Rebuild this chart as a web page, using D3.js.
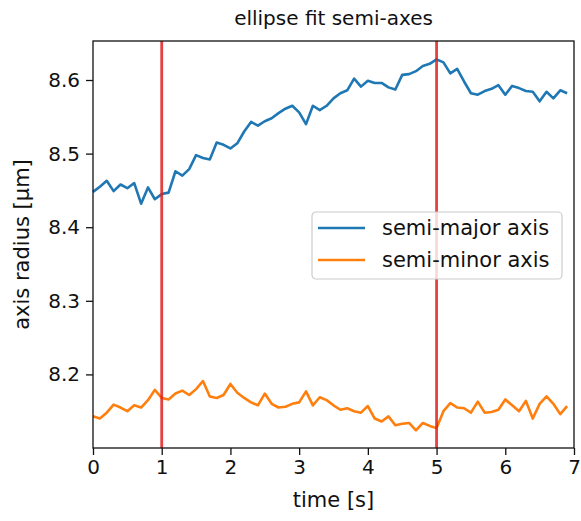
<!DOCTYPE html>
<html>
<head>
<meta charset="utf-8">
<script src="https://cdn.jsdelivr.net/npm/d3@7"></script>
<style>
  body { margin: 0; background: #fff; }
  svg text { font-family: "DejaVu Sans", sans-serif; fill: #111; }
</style>
</head>
<body>
<div id="chart"></div>
<script>
// data (time step 0.1 s)
var times = d3.range(70).map(function(i) { return i / 10; });

var semiMajor = [
  8.448, 8.455, 8.463, 8.449, 8.458, 8.453, 8.460, 8.432, 8.454, 8.438,
  8.445, 8.447, 8.476, 8.470, 8.479, 8.498, 8.494, 8.492, 8.515, 8.512,
  8.507, 8.514, 8.530, 8.543, 8.538, 8.544, 8.548, 8.555, 8.561, 8.565,
  8.556, 8.540, 8.565, 8.559, 8.565, 8.575, 8.582, 8.586, 8.602, 8.591,
  8.599, 8.596, 8.596, 8.590, 8.587, 8.607, 8.608, 8.612, 8.619, 8.622,
  8.628, 8.624, 8.609, 8.615, 8.598, 8.582, 8.580, 8.585, 8.588, 8.593,
  8.580, 8.592, 8.589, 8.585, 8.584, 8.571, 8.584, 8.575, 8.586, 8.582
];

var semiMinor = [
  8.143, 8.140, 8.148, 8.159, 8.155, 8.150, 8.158, 8.155, 8.165, 8.179,
  8.168, 8.166, 8.174, 8.178, 8.172, 8.180, 8.191, 8.170, 8.168, 8.172,
  8.187, 8.175, 8.168, 8.162, 8.158, 8.174, 8.160, 8.155, 8.156, 8.160,
  8.162, 8.177, 8.158, 8.169, 8.165, 8.158, 8.152, 8.154, 8.150, 8.148,
  8.157, 8.140, 8.136, 8.143, 8.131, 8.133, 8.134, 8.124, 8.134, 8.130,
  8.127, 8.150, 8.161, 8.155, 8.154, 8.148, 8.163, 8.148, 8.149, 8.152,
  8.166, 8.158, 8.150, 8.164, 8.140, 8.160, 8.170, 8.160, 8.146, 8.157
];

var markerTimes = [1, 5];
var seriesNames = ["semi-major axis", "semi-minor axis"];
var xTicks = [0, 1, 2, 3, 4, 5, 6, 7];
var yTicks = [8.2, 8.3, 8.4, 8.5, 8.6];

var svgWidth = 581;
var svgHeight = 521;
var margin = { top: 41, right: 7, bottom: 73, left: 93 };
var width = svgWidth - margin.left - margin.right;
var height = svgHeight - margin.top - margin.bottom;

var svg = d3.select("#chart")
  .append("svg")
  .attr("width", svgWidth)
  .attr("height", svgHeight);

var chartGroup = svg.append("g")
  .attr("transform", `translate(${margin.left}, ${margin.top})`);

var x = d3.scaleLinear().domain([0, 7]).range([0, width]);
var y = d3.scaleLinear().domain([8.1, 8.653]).range([height, 0]);

var series = [
  { name: seriesNames[0], values: semiMajor, color: "#1f77b4" },
  { name: seriesNames[1], values: semiMinor, color: "#ff7f0e" }
];

var line = d3.line()
  .x(function(d, i) { return x(times[i]); })
  .y(function(d) { return y(d); });

series.forEach(function(s) {
  chartGroup.append("path")
    .datum(s.values)
    .attr("fill", "none")
    .attr("stroke", s.color)
    .attr("stroke-width", 2.6)
    .attr("stroke-linejoin", "round")
    .attr("d", line);
});

// red markers
chartGroup.selectAll("line.marker")
  .data(markerTimes)
  .enter()
  .append("line")
  .attr("class", "marker")
  .attr("x1", d => x(d))
  .attr("x2", d => x(d))
  .attr("y1", 0)
  .attr("y2", height)
  .attr("stroke", "#e02020")
  .attr("stroke-opacity", 0.85)
  .attr("stroke-width", 2.8);

// axes
var bottomAxis = d3.axisBottom(x).tickValues(xTicks).tickSize(7).tickPadding(5)
  .tickFormat(d3.format("d"));
var leftAxis = d3.axisLeft(y).tickValues(yTicks).tickSize(7).tickPadding(6)
  .tickFormat(d3.format(".1f"));

var gx = chartGroup.append("g")
  .attr("transform", `translate(0, ${height})`)
  .call(bottomAxis);
var gy = chartGroup.append("g").call(leftAxis);

[gx, gy].forEach(function(g) {
  g.select(".domain").remove();
  g.selectAll("text").style("font-size", "20px").attr("fill", "#111");
  g.selectAll("line").attr("stroke", "#111").attr("stroke-width", 1.3);
});

// frame
chartGroup.append("rect")
  .attr("width", width)
  .attr("height", height)
  .attr("fill", "none")
  .attr("stroke", "#111")
  .attr("stroke-width", 1.3);

// legend
var legend = chartGroup.append("g")
  .attr("transform", `translate(${312 - margin.left}, ${212 - margin.top})`);

legend.append("rect")
  .attr("width", 250)
  .attr("height", 67)
  .attr("rx", 4)
  .attr("fill", "#fff")
  .attr("fill-opacity", 0.8)
  .attr("stroke", "#ccc")
  .attr("stroke-width", 1.2);

series.forEach(function(s, i) {
  var ly = 16 + i * 32;
  legend.append("line")
    .attr("x1", 6).attr("x2", 53)
    .attr("y1", ly).attr("y2", ly)
    .attr("stroke", s.color)
    .attr("stroke-width", 2.6);
  legend.append("text")
    .attr("x", 70)
    .attr("y", ly)
    .attr("dy", "0.35em")
    .style("font-size", "21px")
    .text(s.name);
});

// title and axis labels
svg.append("text")
  .attr("x", margin.left + width / 2)
  .attr("y", 25)
  .attr("text-anchor", "middle")
  .style("font-size", "20px")
  .text("ellipse fit semi-axes");

svg.append("text")
  .attr("x", margin.left + width / 2)
  .attr("y", 507)
  .attr("text-anchor", "middle")
  .style("font-size", "21px")
  .text("time [s]");

svg.append("text")
  .attr("transform", "rotate(-90)")
  .attr("x", -(margin.top + height / 2))
  .attr("y", 29)
  .attr("text-anchor", "middle")
  .style("font-size", "21px")
  .text("axis radius [µm]");
</script>
</body>
</html>
